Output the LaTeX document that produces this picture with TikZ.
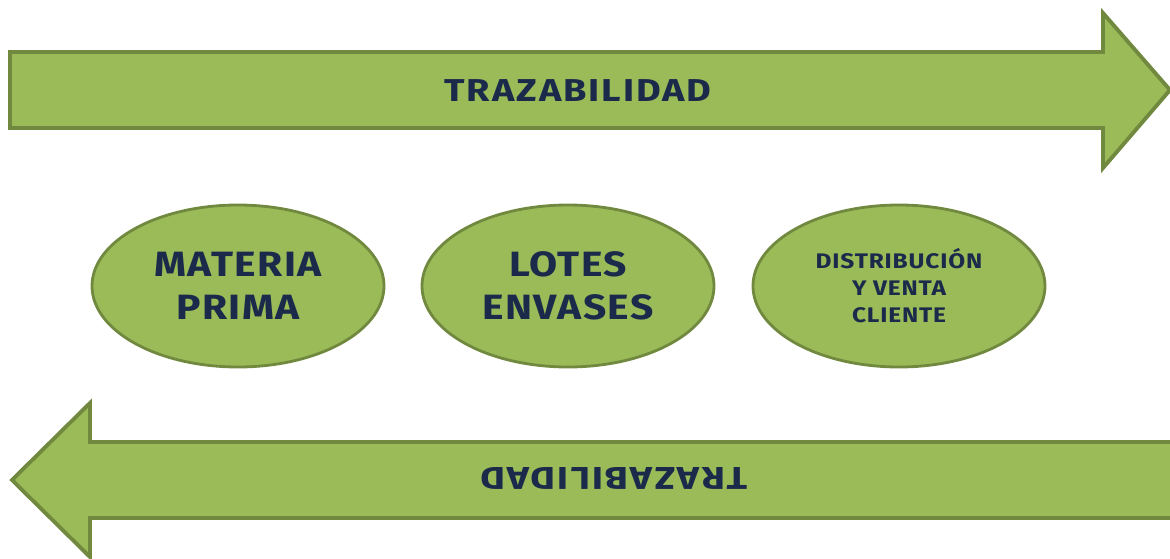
\documentclass[tikz,border=0pt]{standalone}
\usepackage{fontspec}
\setmainfont{Fira Sans}
\usetikzlibrary{shapes.geometric}
\definecolor{verde}{HTML}{9BBB59}
\definecolor{verdeoscuro}{HTML}{71893F}
\definecolor{tinta}{HTML}{1B2A4A}

\begin{document}
\begin{tikzpicture}[
    etapa/.style ={ellipse, draw=verdeoscuro, fill=verde, line width=1.6pt,
      minimum width=5.84cm, minimum height=3.24cm, align=center, text=tinta,
      font=\bfseries\fontsize{20}{24.5}\selectfont\addfontfeature{FakeStretch=1.16,LetterSpace=4}},
    flecha/.style ={draw=verdeoscuro, fill=verde, line width=2.2pt},
    rotulo/.style ={text=tinta,
      font=\bfseries\fontsize{18}{20}\selectfont\addfontfeature{FakeStretch=1.2,LetterSpace=6}}]
   \useasboundingbox (0,0) rectangle (23.4,11.16);
   \clip (0,0) rectangle (23.4,11.16);

   % flechas
   \draw[flecha] (0.2,8.6) -- (0.2,10.12) -- (22.06,10.12) -- (22.06,10.9)
     -- (23.4,9.36) -- (22.06,7.8) -- (22.06,8.6) -- cycle;
   \draw[flecha] (23.8,0.8) -- (23.8,2.32) -- (1.8,2.32) -- (1.8,3.1)
     -- (0.24,1.56) -- (1.8,0.02) -- (1.8,0.8) -- cycle;
   \node[rotulo] (ida) at (11.56,9.34) {TRAZABILIDAD};
   \node[rotulo,rotate=180] (vuelta) at (12.28,1.6) {TRAZABILIDAD};

   % etapas
   \node[etapa] (mp) at (4.76,5.44) {MATERIA\\PRIMA};
   \node[etapa] (le) at (11.36,5.44) {LOTES\\ENVASES};
   \node[etapa,font=\bfseries\fontsize{12}{15.4}\selectfont\addfontfeature{FakeStretch=1.16,LetterSpace=4}]
     (dv) at (17.98,5.44) {DISTRIBUCIÓN\\Y VENTA\\CLIENTE};
 \end{tikzpicture}
\end{document}
